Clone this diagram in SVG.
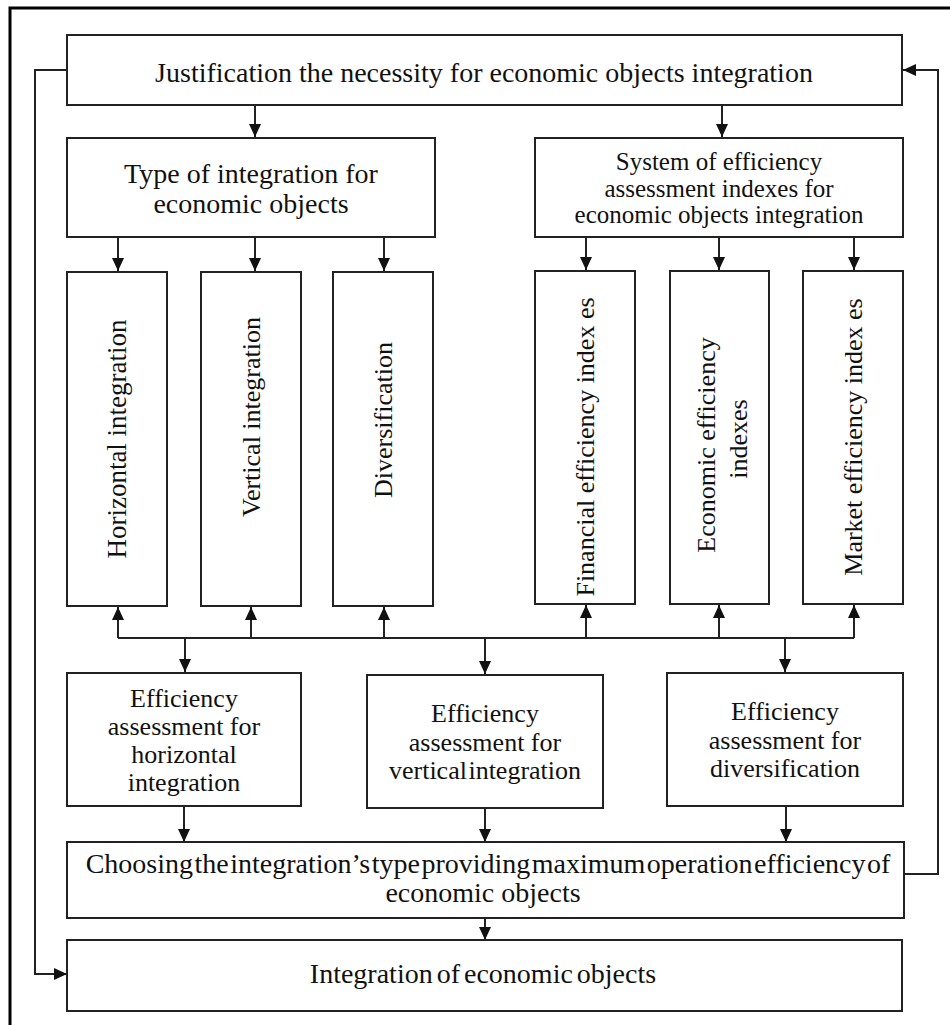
<svg xmlns="http://www.w3.org/2000/svg" width="950" height="1025" viewBox="0 0 950 1025">
  <style>
    .box { fill: #ffffff; stroke: #222222; stroke-width: 2; }
    .conn { fill: none; stroke: #222222; stroke-width: 2; }
    text { font-family: "Liberation Serif", "Times New Roman", serif; fill: #111111; }
    .c { text-anchor: middle; }
    .t28 { font-size: 28px; }
    .t27 { font-size: 27px; }
    .t26 { font-size: 26px; }
    .t25 { font-size: 25px; }
  </style>
  <defs>
    <marker id="arrow" markerUnits="userSpaceOnUse" markerWidth="14" markerHeight="14" viewBox="0 0 14 14" refX="13" refY="7" orient="auto">
      <path d="M0,1 L13,7 L0,13 Z" fill="#111111"/>
    </marker>
  </defs>

  <!-- page frame -->
  <rect x="0" y="0" width="950" height="1025" fill="#ffffff"/>
  <path d="M10,1025 L10,8 L950,8" fill="none" stroke="#000000" stroke-width="3"/>

  <!-- connectors -->
  <g id="connectors">
    <path class="conn" d="M255,105 L255,137" marker-end="url(#arrow)"/>
    <path class="conn" d="M722,105 L722,137" marker-end="url(#arrow)"/>

    <path class="conn" d="M118,237 L118,271" marker-end="url(#arrow)"/>
    <path class="conn" d="M255,237 L255,271" marker-end="url(#arrow)"/>
    <path class="conn" d="M384,237 L384,271" marker-end="url(#arrow)"/>
    <path class="conn" d="M586,237 L586,270" marker-end="url(#arrow)"/>
    <path class="conn" d="M719,237 L719,270" marker-end="url(#arrow)"/>
    <path class="conn" d="M854,237 L854,270" marker-end="url(#arrow)"/>

    <!-- shared bus between index boxes and assessment boxes -->
    <path class="conn" d="M118,638 L854,638"/>
    <path class="conn" d="M118,638 L118,607" marker-end="url(#arrow)"/>
    <path class="conn" d="M251,638 L251,607" marker-end="url(#arrow)"/>
    <path class="conn" d="M384,638 L384,607" marker-end="url(#arrow)"/>
    <path class="conn" d="M586,638 L586,605" marker-end="url(#arrow)"/>
    <path class="conn" d="M719,638 L719,605" marker-end="url(#arrow)"/>
    <path class="conn" d="M854,638 L854,605" marker-end="url(#arrow)"/>
    <path class="conn" d="M185,638 L185,672" marker-end="url(#arrow)"/>
    <path class="conn" d="M485,638 L485,674" marker-end="url(#arrow)"/>
    <path class="conn" d="M785,638 L785,672" marker-end="url(#arrow)"/>

    <path class="conn" d="M184,806 L184,842" marker-end="url(#arrow)"/>
    <path class="conn" d="M485,808 L485,842" marker-end="url(#arrow)"/>
    <path class="conn" d="M786,806 L786,842" marker-end="url(#arrow)"/>

    <path class="conn" d="M485,918 L485,940" marker-end="url(#arrow)"/>

    <!-- feedback loops -->
    <path class="conn" d="M67,70 L35,70 L35,974 L67,974" marker-end="url(#arrow)"/>
    <path class="conn" d="M904,874 L938,874 L938,70 L903,70" marker-end="url(#arrow)"/>
  </g>

  <g id="justification">
    <rect class="box" x="67" y="35" width="835" height="70"/>
    <text class="c t28" x="484" y="82">Justification the necessity for economic objects integration</text>
  </g>

  <g id="integration-type">
    <rect class="box" x="67" y="138" width="368" height="99"/>
    <text class="c t28" x="251" y="183">Type of integration for</text>
    <text class="c t28" x="251" y="213">economic objects</text>
  </g>

  <g id="index-system">
    <rect class="box" x="535" y="138" width="368" height="99"/>
    <text class="c t25" x="719" y="170">System of efficiency</text>
    <text class="c t25" x="719" y="197">assessment indexes for</text>
    <text class="c t25" x="719" y="223">economic objects integration</text>
  </g>

  <g id="horizontal">
    <rect class="box" x="67" y="272" width="100" height="334"/>
    <text class="c t27" transform="translate(117,439) rotate(-90)" x="0" y="9">Horizontal integration</text>
  </g>

  <g id="vertical">
    <rect class="box" x="201" y="272" width="100" height="334"/>
    <text class="c t26" transform="translate(251,417) rotate(-90)" x="0" y="9">Vertical integration</text>
  </g>

  <g id="diversification">
    <rect class="box" x="333" y="272" width="100" height="334"/>
    <text class="c t26" transform="translate(383,420) rotate(-90)" x="0" y="9">Diversification</text>
  </g>

  <g id="financial-indexes">
    <rect class="box" x="535" y="271" width="100" height="333"/>
    <text class="c t26" transform="translate(585,447) rotate(-90)" x="0" y="9">Financial efficiency index es</text>
  </g>

  <g id="economic-indexes">
    <rect class="box" x="670" y="271" width="99" height="333"/>
    <text class="c t26" transform="translate(706,445) rotate(-90)" x="0" y="9">Economic efficiency</text>
    <text class="c t26" transform="translate(738,439) rotate(-90)" x="0" y="9">indexes</text>
  </g>

  <g id="market-indexes">
    <rect class="box" x="803" y="271" width="100" height="333"/>
    <text class="c t26" transform="translate(853,437) rotate(-90)" x="0" y="9">Market efficiency index es</text>
  </g>

  <g id="assess-horizontal">
    <rect class="box" x="67" y="673" width="234" height="133"/>
    <text class="c t26" x="184" y="707">Efficiency</text>
    <text class="c t26" x="184" y="735">assessment for</text>
    <text class="c t26" x="184" y="763">horizontal</text>
    <text class="c t26" x="184" y="791">integration</text>
  </g>

  <g id="assess-vertical">
    <rect class="box" x="367" y="675" width="236" height="133"/>
    <text class="c t26" x="485" y="722">Efficiency</text>
    <text class="c t26" x="485" y="751">assessment for</text>
    <text class="c t26" x="485" y="779" word-spacing="-5">vertical integration</text>
  </g>

  <g id="assess-diversification">
    <rect class="box" x="667" y="673" width="236" height="133"/>
    <text class="c t26" x="785" y="720">Efficiency</text>
    <text class="c t26" x="785" y="749">assessment for</text>
    <text class="c t26" x="785" y="777">diversification</text>
  </g>

  <g id="choice">
    <rect class="box" x="67" y="842" width="837" height="76"/>
    <text class="c t28" x="488" y="873" word-spacing="-5.5">Choosing the integration’s type providing maximum operation efficiency of</text>
    <text class="c t28" x="483" y="902">economic objects</text>
  </g>

  <g id="integration">
    <rect class="box" x="67" y="940" width="835" height="71"/>
    <text class="c t28" x="483" y="983" word-spacing="-3">Integration of economic objects</text>
  </g>
</svg>
